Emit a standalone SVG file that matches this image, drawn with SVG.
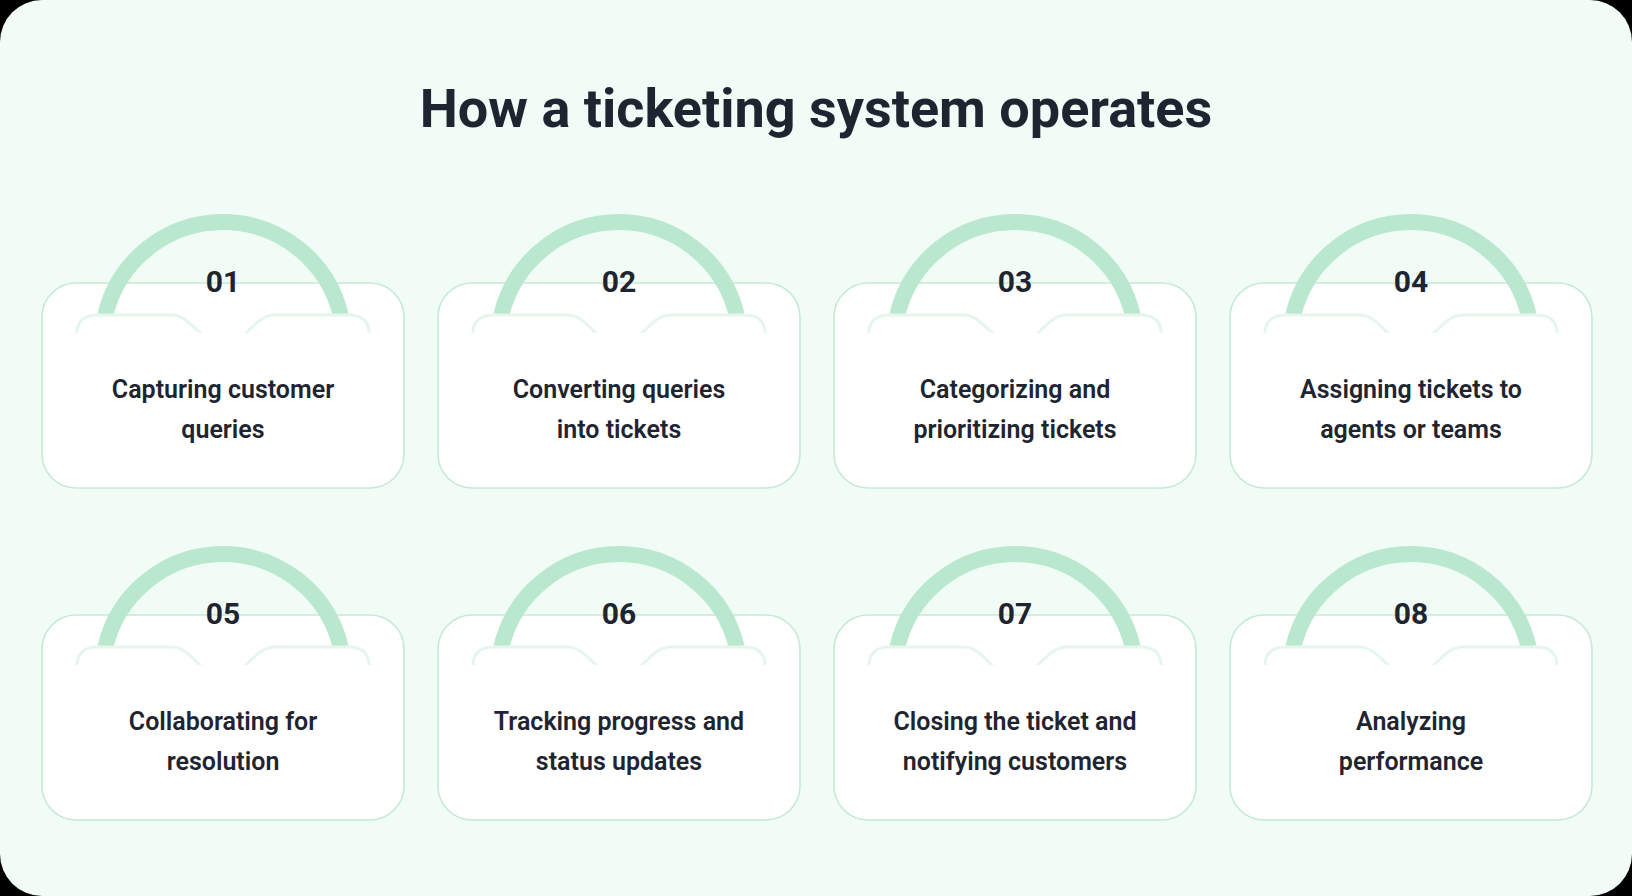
<svg xmlns="http://www.w3.org/2000/svg" xmlns:xlink="http://www.w3.org/1999/xlink" width="1632" height="896" viewBox="0 0 1632 896">
<style>
.card{fill:#fff;stroke:#c3ead5;stroke-width:1.6}
.arc{fill:none;stroke:#b9e8cf;stroke-width:16}
.notch{fill:#fff;stroke:#e6f6ed;stroke-width:3}
.num{font-family:Roboto,"Liberation Sans",sans-serif;font-weight:700;font-size:30px;fill:#1f2530;text-anchor:middle}
.lbl{font-family:Roboto,"Liberation Sans",sans-serif;font-weight:600;font-size:25px;fill:#1f2530;text-anchor:middle}
.title{font-family:Roboto,"Liberation Sans",sans-serif;font-weight:700;font-size:54px;fill:#1f2530;text-anchor:middle}
</style>
<defs>
<g id="base">
<rect class="card" x="-181" y="0" width="362" height="205" rx="34"/>
<path class="arc" d="M -117.7 32 A 121 121 0 0 1 117.7 32"/>
<path class="notch" d="M -146 48 Q -144 32 -126 32 L -52 32 C -30 32 -22 62 0 62 C 22 62 30 32 52 32 L 126 32 Q 144 32 146 48 L 146 70 L -146 70 Z"/>
<rect x="-150" y="50" width="300" height="30" fill="#fff"/>
</g>
</defs>
<rect width="1632" height="896" fill="#000"/>
<rect width="1632" height="896" rx="42" fill="#f2fcf6"/>
<text class="title" x="816" y="127">How a ticketing system operates</text>
<g id="node1" transform="translate(223,283)"><use xlink:href="#base"/><text class="num" x="0" y="9">01</text><text class="lbl" x="0" y="115">Capturing customer</text><text class="lbl" x="0" y="155">queries</text></g>
<g id="node2" transform="translate(619,283)"><use xlink:href="#base"/><text class="num" x="0" y="9">02</text><text class="lbl" x="0" y="115">Converting queries</text><text class="lbl" x="0" y="155">into tickets</text></g>
<g id="node3" transform="translate(1015,283)"><use xlink:href="#base"/><text class="num" x="0" y="9">03</text><text class="lbl" x="0" y="115">Categorizing and</text><text class="lbl" x="0" y="155">prioritizing tickets</text></g>
<g id="node4" transform="translate(1411,283)"><use xlink:href="#base"/><text class="num" x="0" y="9">04</text><text class="lbl" x="0" y="115">Assigning tickets to</text><text class="lbl" x="0" y="155">agents or teams</text></g>
<g id="node5" transform="translate(223,615)"><use xlink:href="#base"/><text class="num" x="0" y="9">05</text><text class="lbl" x="0" y="115">Collaborating for</text><text class="lbl" x="0" y="155">resolution</text></g>
<g id="node6" transform="translate(619,615)"><use xlink:href="#base"/><text class="num" x="0" y="9">06</text><text class="lbl" x="0" y="115">Tracking progress and</text><text class="lbl" x="0" y="155">status updates</text></g>
<g id="node7" transform="translate(1015,615)"><use xlink:href="#base"/><text class="num" x="0" y="9">07</text><text class="lbl" x="0" y="115">Closing the ticket and</text><text class="lbl" x="0" y="155">notifying customers</text></g>
<g id="node8" transform="translate(1411,615)"><use xlink:href="#base"/><text class="num" x="0" y="9">08</text><text class="lbl" x="0" y="115">Analyzing</text><text class="lbl" x="0" y="155">performance</text></g>
<g id="connectors"/>
</svg>
